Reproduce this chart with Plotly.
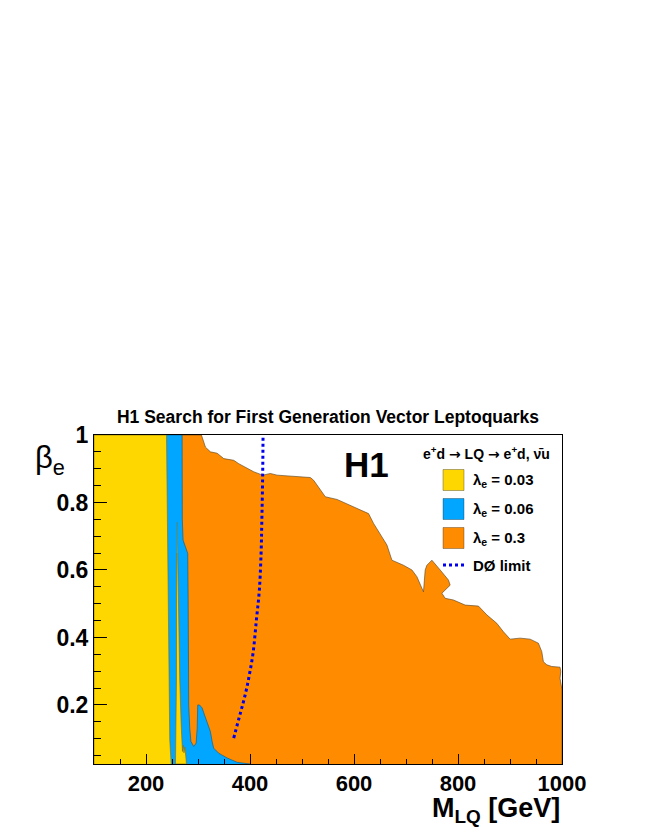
import plotly.graph_objects as go

# axis ranges
M_MIN, M_MAX = 100, 1000
B_MIN, B_MAX = 0.025, 1.0

# lambda_e = 0.3 : upper / right edge of the excluded region
orange_mass = [306.6, 314.3, 323.9, 336.8, 349.5, 368.7, 378.3, 394.4, 407.1, 424.4,
               439.2, 452.0, 477.6, 516.0, 522.3, 535.2, 544.8, 567.3, 586.5, 605.7,
               628.0, 637.6, 653.7, 663.3, 672.9, 695.2, 711.4, 721.0, 733.6, 736.9,
               740.2, 749.8, 765.7, 781.7, 784.9, 775.3, 769.0, 775.3, 791.3, 813.7,
               839.3, 855.4, 874.6, 887.3, 900.2, 919.4, 938.6, 954.6, 961.1, 964.2,
               970.7, 980.3, 996.2, 997.6, 996.2, 999.5]
orange_beta = [1.0, 0.964, 0.950, 0.946, 0.930, 0.925, 0.915, 0.901, 0.891, 0.881,
               0.886, 0.881, 0.878, 0.874, 0.866, 0.836, 0.817, 0.809, 0.795, 0.782,
               0.767, 0.738, 0.698, 0.674, 0.629, 0.614, 0.600, 0.580, 0.535, 0.600,
               0.614, 0.629, 0.600, 0.570, 0.555, 0.541, 0.531, 0.516, 0.511, 0.496,
               0.493, 0.467, 0.442, 0.417, 0.395, 0.398, 0.395, 0.383, 0.358, 0.328,
               0.319, 0.314, 0.312, 0.299, 0.279, 0.250]

# lambda_e = 0.06 : right edge of the excluded region
blue_mass = [269.5, 269.8, 271.4, 275.9, 280.3, 281.1, 282.2, 284.1, 286.4, 291.8,
             296.4, 298.4, 299.5, 302.8, 308.0, 311.0, 317.6, 323.9, 327.2, 330.2,
             339.8, 356.0, 375.2, 400.7]
blue_beta = [1.0, 0.75, 0.688, 0.669, 0.649, 0.511, 0.200, 0.132, 0.092, 0.077,
             0.087, 0.131, 0.200, 0.200, 0.191, 0.177, 0.151, 0.121, 0.092, 0.072,
             0.057, 0.043, 0.030, 0.025]

# lambda_e = 0.03 : right edge of the main excluded region
yellow_mass = [239.4, 240.5, 241.3, 242.3, 243.2, 243.8, 245.7, 248.4]
yellow_beta = [1.0, 0.85, 0.718, 0.511, 0.35, 0.215, 0.097, 0.025]

# lambda_e = 0.03 : narrow island between the two 0.06 spikes
island_mass = [259.9, 260.8, 261.2, 263.0, 264.9, 267.6, 269.2, 270.1, 272.0, 273.0,
               274.9, 276.8, 277.8, 256.7, 257.6, 258.6, 258.8, 259.6]
island_beta = [0.742, 0.65, 0.52, 0.38, 0.274, 0.142, 0.090, 0.062, 0.080, 0.058,
               0.075, 0.045, 0.025, 0.025, 0.142, 0.274, 0.52, 0.65]

# D0 limit
d0_mass = [368.7, 381.5, 388.3, 394.4, 399.8, 405.9, 412.3, 418.0, 421.3, 422.8, 424.4, 425.1]
d0_beta = [0.102, 0.176, 0.215, 0.255, 0.298, 0.354, 0.452, 0.541, 0.650, 0.748, 0.886, 1.0]

YELLOW = "#FFD700"
BLUE = "#00A6FF"
ORANGE = "#FF8C00"
FONT = "Liberation Sans"

legend_labels = ["λ<sub>e</sub> = 0.03", "λ<sub>e</sub> = 0.06", "λ<sub>e</sub> = 0.3"]
legend_colors = [YELLOW, BLUE, ORANGE]

# plot frame in page pixels; the page body adds an 8px offset to the figure
PAGE_OFF = 8
W, H = 645, 835
PLOT_L, PLOT_R, PLOT_T, PLOT_B = 94, 562, 435, 764


def fx(px):
    return (px - PLOT_L) / (PLOT_R - PLOT_L)


def fy(py):
    return (PLOT_B - py) / (PLOT_B - PLOT_T)


fig = go.Figure()
fig.add_trace(go.Scatter(
    x=[M_MIN, M_MIN] + orange_mass + [M_MAX, M_MAX],
    y=[B_MIN, B_MAX] + orange_beta + [orange_beta[-1], B_MIN],
    fill="toself", fillcolor=ORANGE, mode="lines",
    line={"color": "rgba(90,70,40,0.8)", "width": 0.8},
    hoverinfo="skip",
))
fig.add_trace(go.Scatter(
    x=[M_MIN, M_MIN] + blue_mass,
    y=[B_MIN, B_MAX] + blue_beta,
    fill="toself", fillcolor=BLUE, mode="lines",
    line={"color": "rgba(20,90,130,0.8)", "width": 0.8},
    hoverinfo="skip",
))
fig.add_trace(go.Scatter(
    x=[M_MIN, M_MIN] + yellow_mass + [None] + island_mass,
    y=[B_MIN, B_MAX] + yellow_beta + [None] + island_beta,
    fill="toself", fillcolor=YELLOW, mode="lines",
    line={"color": "rgba(130,110,20,0.8)", "width": 0.8},
    hoverinfo="skip",
))
fig.add_trace(go.Scatter(
    x=d0_mass, y=d0_beta, mode="lines",
    line={"color": "#0000EE", "width": 3, "dash": "dot", "shape": "spline"},
))

axis_common = dict(
    showline=True, linecolor="black", linewidth=1, mirror=True, automargin=False,
    showgrid=False, zeroline=False, ticks="inside", tickcolor="black",
)
fig.update_xaxes(
    range=[M_MIN, M_MAX], tickvals=[200, 400, 600, 800, 1000], ticklen=10,
    tickfont={"family": FONT, "size": 22, "color": "black", "weight": "bold"},
    minor={"dtick": 50, "ticks": "inside", "ticklen": 5, "tickcolor": "black"},
    **axis_common,
)
fig.update_yaxes(
    range=[B_MIN, B_MAX], tickvals=[0.2, 0.4, 0.6, 0.8, 1.0],
    ticktext=["0.2", "0.4", "0.6", "0.8", "1"], ticklen=13,
    tickfont={"family": FONT, "size": 23, "color": "black", "weight": "bold"},
    minor={"dtick": 0.05, "ticks": "inside", "ticklen": 7, "tickcolor": "black"},
    **axis_common,
)

arrow = '<span style="font-family:DejaVu Sans">→</span>'
annotations = [
    dict(x=fx(33), y=fy(438), text="β<sub>e</sub>", xanchor="left", yanchor="top",
         font={"family": FONT, "size": 31, "color": "black"}),
    dict(x=1, y=fy(829), text="<b>M<sub>LQ</sub> [GeV]</b>", xanchor="right",
         yanchor="bottom", font={"family": FONT, "size": 27, "color": "black"}),
    dict(x=fx(366), y=fy(464), text="<b>H1</b>", xanchor="center", yanchor="middle",
         font={"family": FONT, "size": 35, "color": "black"}),
    dict(x=fx(552), y=fy(453),
         text="<b>e<sup>+</sup>d " + arrow + " LQ " + arrow + " e<sup>+</sup>d, ν̄u</b>",
         xanchor="right", yanchor="middle",
         font={"family": FONT, "size": 14, "color": "black"}),
]
shapes = []
for i, (label, color) in enumerate(zip(legend_labels, legend_colors)):
    yc = 480 + i * 29
    shapes.append(dict(type="rect", xref="paper", yref="paper",
                       x0=fx(443), x1=fx(464), y0=fy(yc + 10.5), y1=fy(yc - 10.5),
                       fillcolor=color, line={"color": "rgba(0,0,0,0.3)", "width": 1}))
    annotations.append(dict(x=fx(471), y=fy(yc), text="<b>" + label + "</b>",
                            xanchor="left", yanchor="middle",
                            font={"family": FONT, "size": 15, "color": "black"}))
shapes.append(dict(type="line", xref="paper", yref="paper",
                   x0=fx(443), x1=fx(464), y0=fy(565), y1=fy(565),
                   line={"color": "#0000EE", "width": 3, "dash": "dot"}))
annotations.append(dict(x=fx(471), y=fy(565), text="<b>DØ limit</b>",
                        xanchor="left", yanchor="middle",
                        font={"family": FONT, "size": 15, "color": "black"}))
for a in annotations:
    a.update(xref="paper", yref="paper", showarrow=False)

fig.update_layout(
    width=W, height=H,
    margin={"l": PLOT_L - PAGE_OFF, "r": W - PLOT_R + PAGE_OFF,
            "t": PLOT_T - PAGE_OFF, "b": H - PLOT_B + PAGE_OFF},
    paper_bgcolor="white", plot_bgcolor="white",
    showlegend=False,
    title={"text": "<b>H1 Search for First Generation Vector Leptoquarks</b>",
           "x": 0.5, "xref": "paper", "xanchor": "center",
           "y": 1 - (417 - PAGE_OFF) / H, "yref": "container", "yanchor": "middle",
           "font": {"family": FONT, "size": 17.5, "color": "black"}},
    annotations=annotations,
    shapes=shapes,
)
fig.write_html("out.html")
